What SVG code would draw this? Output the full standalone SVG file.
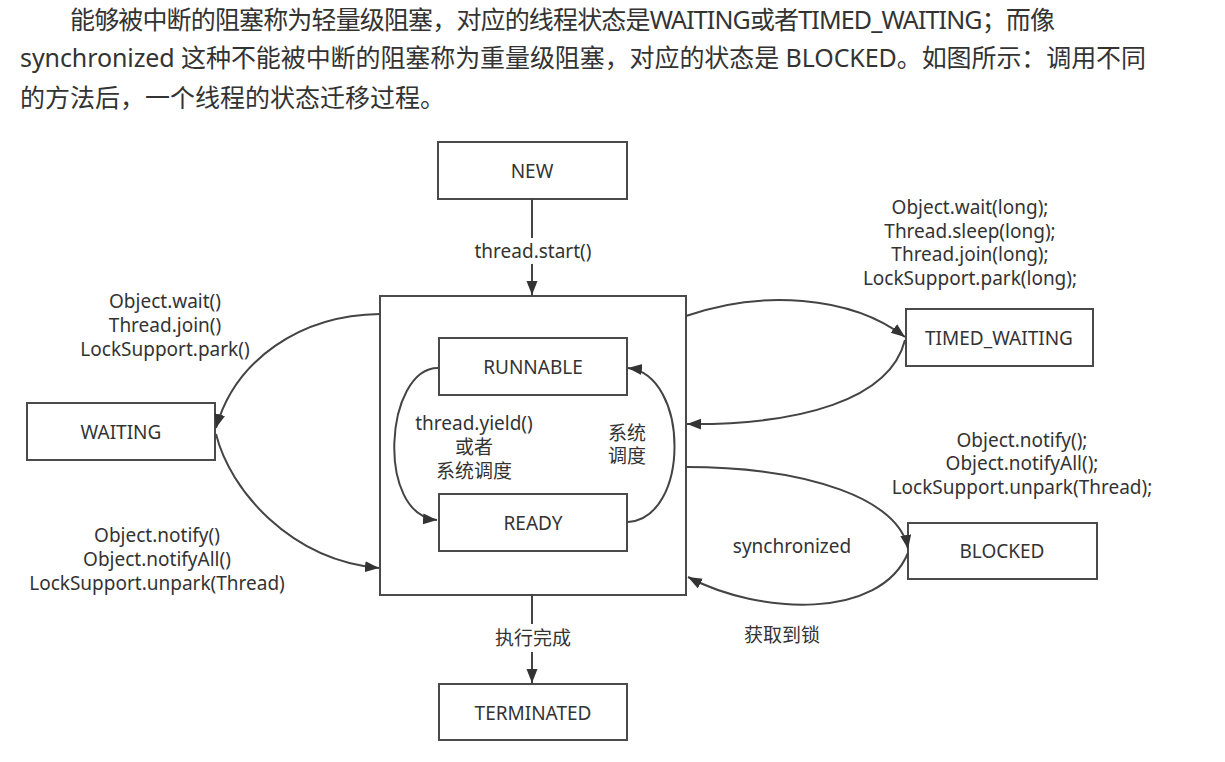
<svg xmlns="http://www.w3.org/2000/svg" width="1225" height="762" viewBox="0 0 1225 762">
<defs>
<style>
.para{font-family:"Noto Sans","Noto Sans CJK SC",sans-serif;font-size:25px;fill:#333}
.box{fill:#fff;stroke:#4a4a4a;stroke-width:2}
.lbl{font-family:"Noto Sans","Noto Sans CJK SC",sans-serif;font-size:19px;fill:#333;text-anchor:middle;dominant-baseline:central}
.edge{fill:none;stroke:#444;stroke-width:2}
</style>
<marker id="arr" markerUnits="userSpaceOnUse" markerWidth="15" markerHeight="12" refX="14" refY="5.5" orient="auto">
<path d="M0,0 L14,5.5 L0,11 z" fill="#333"/>
</marker>
</defs>
<rect width="1225" height="762" fill="#fff"/>
<g id="paragraph">
<text class="para" x="70" y="29" textLength="985" lengthAdjust="spacing">能够被中断的阻塞称为轻量级阻塞，对应的线程状态是WAITING或者TIMED_WAITING；而像</text>
<text class="para" x="20" y="67" textLength="1126" lengthAdjust="spacing">synchronized 这种不能被中断的阻塞称为重量级阻塞，对应的状态是 BLOCKED。如图所示：调用不同</text>
<text class="para" x="20" y="107">的方法后，一个线程的状态迁移过程。</text>
</g>
<g id="node-container"><rect class="box" x="380" y="296" width="306" height="299"/></g>
<g id="node-new"><rect class="box" x="438" y="142" width="189" height="57"/><text class="lbl" x="532" y="171">NEW</text></g>
<g id="node-runnable"><rect class="box" x="439" y="338" width="188" height="57"/><text class="lbl" x="533" y="367">RUNNABLE</text></g>
<g id="node-ready"><rect class="box" x="439" y="494" width="188" height="57"/><text class="lbl" x="533" y="523">READY</text></g>
<g id="node-waiting"><rect class="box" x="27" y="403" width="188" height="57"/><text class="lbl" x="121" y="432">WAITING</text></g>
<g id="node-timed-waiting"><rect class="box" x="906" y="309" width="187" height="57"/><text class="lbl" x="999" y="338">TIMED_WAITING</text></g>
<g id="node-blocked"><rect class="box" x="908" y="523" width="189" height="56"/><text class="lbl" x="1002" y="551">BLOCKED</text></g>
<g id="node-terminated"><rect class="box" x="439" y="684" width="188" height="56"/><text class="lbl" x="533" y="713">TERMINATED</text></g>
<g id="connectors">
<path class="edge" d="M532,199 L532,238"/>
<path class="edge" d="M532,264 L532,295" marker-end="url(#arr)"/>
<path class="edge" d="M532,595 L532,624"/>
<path class="edge" d="M532,652 L532,683" marker-end="url(#arr)"/>
<path class="edge" d="M438,368 C385,368 375,515 437,520" marker-end="url(#arr)"/>
<path class="edge" d="M628,522 C690,518 690,375 628,368" marker-end="url(#arr)"/>
<path class="edge" d="M380,314 C300,315 235,360 216,428" marker-end="url(#arr)"/>
<path class="edge" d="M216,434 C230,490 290,560 379,568" marker-end="url(#arr)"/>
<path class="edge" d="M686,316 C760,290 850,295 905,337" marker-end="url(#arr)"/>
<path class="edge" d="M905,340 C890,400 800,425 687,424" marker-end="url(#arr)"/>
<path class="edge" d="M686,467 C810,467 900,500 908,549" marker-end="url(#arr)"/>
<path class="edge" d="M908,553 C880,620 760,615 688,577" marker-end="url(#arr)"/>
</g>
<g id="labels">
<text class="lbl" x="533" y="251">thread.start()</text>
<text class="lbl" x="533" y="638">执行完成</text>
<text class="lbl" x="474" y="423">thread.yield()</text>
<text class="lbl" x="474" y="447">或者</text>
<text class="lbl" x="474" y="471">系统调度</text>
<text class="lbl" x="627" y="433">系统</text>
<text class="lbl" x="627" y="456">调度</text>
<text class="lbl" x="165" y="301">Object.wait()</text>
<text class="lbl" x="165" y="325">Thread.join()</text>
<text class="lbl" x="165" y="349">LockSupport.park()</text>
<text class="lbl" x="157" y="535">Object.notify()</text>
<text class="lbl" x="157" y="559">Object.notifyAll()</text>
<text class="lbl" x="157" y="583">LockSupport.unpark(Thread)</text>
<text class="lbl" x="970" y="207">Object.wait(long);</text>
<text class="lbl" x="970" y="231">Thread.sleep(long);</text>
<text class="lbl" x="970" y="254">Thread.join(long);</text>
<text class="lbl" x="970" y="278">LockSupport.park(long);</text>
<text class="lbl" x="1022" y="440">Object.notify();</text>
<text class="lbl" x="1022" y="463">Object.notifyAll();</text>
<text class="lbl" x="1022" y="487">LockSupport.unpark(Thread);</text>
<text class="lbl" x="792" y="546">synchronized</text>
<text class="lbl" x="782" y="635">获取到锁</text>
</g>
</svg>
